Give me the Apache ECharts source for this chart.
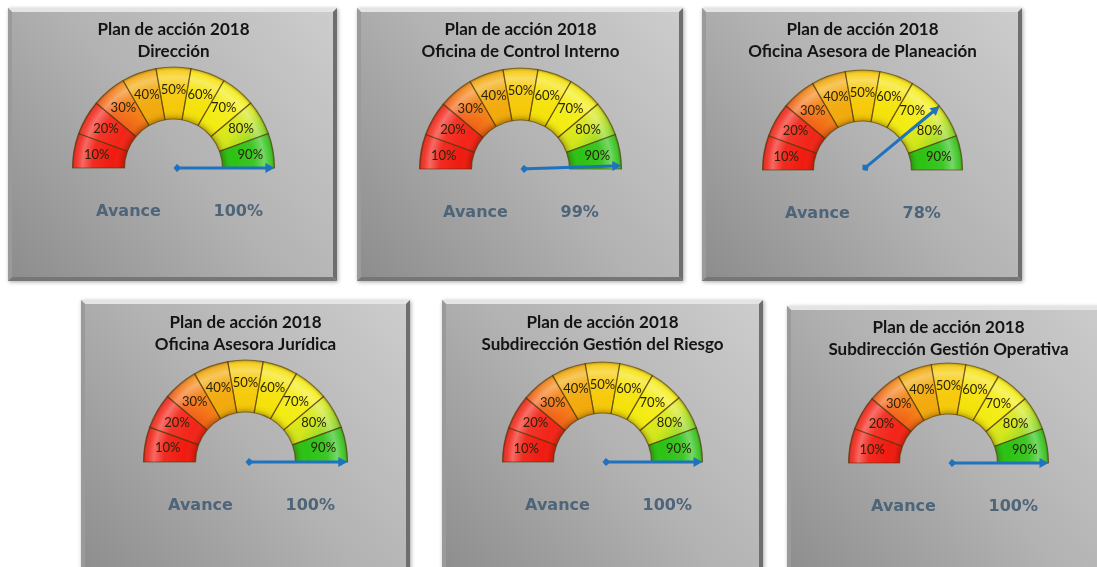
<!DOCTYPE html>
<html>
<head>
<meta charset="utf-8">
<script src="https://cdn.jsdelivr.net/npm/echarts@6/dist/echarts.min.js"></script>
<style>
html, body { margin: 0; padding: 0; background: #fff; }
#chart { width: 1097px; height: 567px; }
</style>
</head>
<body>
<div id="chart"></div>
<script>
// gauge bands (each band takes the same share of the half circle)
var bandLabels = ['10%', '20%', '30%', '40%', '50%', '60%', '70%', '80%', '90%'];
var bandValues = [1, 1, 1, 1, 1, 1, 1, 1, 1];

// one gauge per office
var titleLine1 = 'Plan de acción 2018';
var officeNames = [
    'Dirección',
    'Oficina de Control Interno',
    'Oficina Asesora de Planeación',
    'Oficina Asesora Jurídica',
    'Subdirección Gestión del Riesgo',
    'Subdirección Gestión Operativa'
];
var avanceValues = [100, 99, 78, 100, 100, 100];

// layout of the six cards: [x, y, w, h], gauge centre, radius, title centre y
var cards = [
    [8, 8, 329, 273], [357, 8, 326, 273], [702, 8, 320, 273],
    [81, 300, 329, 280], [442, 300, 321, 280], [787, 306, 330, 280]
];
var centers = [[173.5, 168], [520.5, 169], [862.5, 170], [245.5, 462], [602.5, 462], [948.5, 463]];
var radii = [101, 101, 100, 102, 100, 100];
var titleY = [41, 41, 41, 334, 334, 339];

var bandColors = [
    '#f01a10', '#f32418',
    {type: 'linear', x: 0, y: 1, x2: 1, y2: 0, colorStops: [{offset: 0, color: '#ee2a14'}, {offset: 0.55, color: '#f37a16'}, {offset: 1, color: '#f4a818'}]},
    '#f2aa0c', '#f6ca08', '#f5e20a', '#f3ec12',
    {type: 'linear', x: 0, y: 0, x2: 1, y2: 1, colorStops: [{offset: 0, color: '#f2ee1a'}, {offset: 0.5, color: '#d2e61a'}, {offset: 1, color: '#44c418'}]},
    '#2cc214'
];

var valueFont = 'bold 16px "DejaVu Sans"';
var ctx = document.createElement('canvas').getContext('2d');
function textWidth(s, font) { ctx.font = font; return ctx.measureText(s).width; }

var myChart = echarts.init(document.getElementById('chart'));

var graphics = [];
var series = [];

cards.forEach(function (c, i) {
    var x = c[0], y = c[1], w = c[2], h = c[3], b = 4;
    // card body
    graphics.push({
        type: 'rect', z: -10,
        shape: {x: x, y: y, width: w, height: h},
        style: {
            fill: {type: 'linear', x: 0, y: 1, x2: 1, y2: 0, colorStops: [
                {offset: 0, color: '#8c8c8c'}, {offset: 0.5, color: '#b2b2b2'}, {offset: 1, color: '#cdcdcd'}]},
            shadowBlur: 4, shadowColor: 'rgba(0,0,0,0.35)', shadowOffsetX: 1, shadowOffsetY: 1
        }
    });
    // bevel edges
    graphics.push({type: 'polygon', z: -9, shape: {points: [[x, y], [x + w, y], [x + w - b, y + b], [x + b, y + b]]}, style: {fill: '#e4e4e4'}});
    graphics.push({type: 'polygon', z: -9, shape: {points: [[x + w, y], [x + w, y + h], [x + w - b, y + h - b], [x + w - b, y + b]]}, style: {fill: '#6e6e6e'}});
    graphics.push({type: 'polygon', z: -9, shape: {points: [[x, y + h], [x + w, y + h], [x + w - b, y + h - b], [x + b, y + h - b]]}, style: {fill: '#767676'}});
    graphics.push({type: 'polygon', z: -9, shape: {points: [[x, y], [x + b, y + b], [x + b, y + h - b], [x, y + h]]}, style: {fill: '#9a9a9a'}});
    // title
    graphics.push({
        type: 'text', z: 5,
        style: {
            x: centers[i][0], y: titleY[i], text: titleLine1 + '\n' + officeNames[i],
            align: 'center', verticalAlign: 'middle', lineHeight: 22,
            font: 'bold 17px Lato, sans-serif', fill: '#141414'
        }
    });
});

cards.forEach(function (c, i) {
    var cx = centers[i][0], cy = centers[i][1], r = radii[i], r0 = Math.round(r * 0.49);
    // coloured bands
    series.push({
        type: 'pie', silent: true, z: 2,
        center: [cx, cy], radius: [r0, r],
        startAngle: 180, endAngle: 0, clockwise: true,
        label: {show: false}, labelLine: {show: false},
        itemStyle: {borderWidth: 0},
        data: bandLabels.map(function (name, k) {
            return {name: name, value: bandValues[k], itemStyle: {color: bandColors[k]}};
        })
    });
    // bevel shading on top of the bands
    series.push({
        type: 'pie', silent: true, z: 3,
        center: [cx, cy], radius: [r0, r],
        startAngle: 180, endAngle: 0, clockwise: true,
        labelLine: {show: false},
        label: {show: true, position: 'inside', formatter: '{b}', color: '#2a2208', fontSize: 13, fontFamily: 'Lato, sans-serif'},
        itemStyle: {
            borderColor: 'rgba(80,55,0,0.6)', borderWidth: 1.2,
            color: {type: 'radial', x: cx, y: cy, r: r, global: true, colorStops: [
                {offset: 0.48, color: 'rgba(60,30,0,0.35)'},
                {offset: 0.53, color: 'rgba(60,30,0,0.08)'},
                {offset: 0.6, color: 'rgba(255,255,255,0)'},
                {offset: 0.8, color: 'rgba(255,255,255,0.08)'},
                {offset: 0.9, color: 'rgba(255,255,255,0.35)'},
                {offset: 0.96, color: 'rgba(255,255,255,0.12)'},
                {offset: 1, color: 'rgba(60,30,0,0.35)'}
            ]}
        },
        data: bandLabels.map(function (name, k) {
            return {name: name, value: bandValues[k]};
        })
    });
    // needle + texts; the percentage starts 40px right of the centre
    var valueText = avanceValues[i] + '%';
    series.push({
        type: 'gauge', z: 4,
        center: [cx, cy], radius: r,
        startAngle: 180, endAngle: 0, min: 0, max: 100,
        axisLine: {show: false}, splitLine: {show: false}, axisTick: {show: false}, axisLabel: {show: false},
        anchor: {show: false},
        pointer: {
            icon: 'path://M5,0 L10,9 L6.5,9 L6.5,93.5 L9,96.7 L5,100 L1,96.7 L3.5,93.5 L3.5,9 L0,9 Z',
            length: '100%', width: 10
        },
        itemStyle: {color: '#1f72be'},
        title: {offsetCenter: [-45, 44], color: '#4e6478', fontSize: 16, fontWeight: 'bold', fontFamily: 'DejaVu Sans'},
        detail: {
            offsetCenter: [40 + textWidth(valueText, valueFont) / 2, 44],
            formatter: '{value}%',
            color: '#4e6478', fontSize: 16, fontWeight: 'bold', fontFamily: 'DejaVu Sans'
        },
        data: [{value: avanceValues[i], name: 'Avance'}]
    });
});

myChart.setOption({
    animation: false,
    graphic: graphics,
    series: series
});
</script>
</body>
</html>
